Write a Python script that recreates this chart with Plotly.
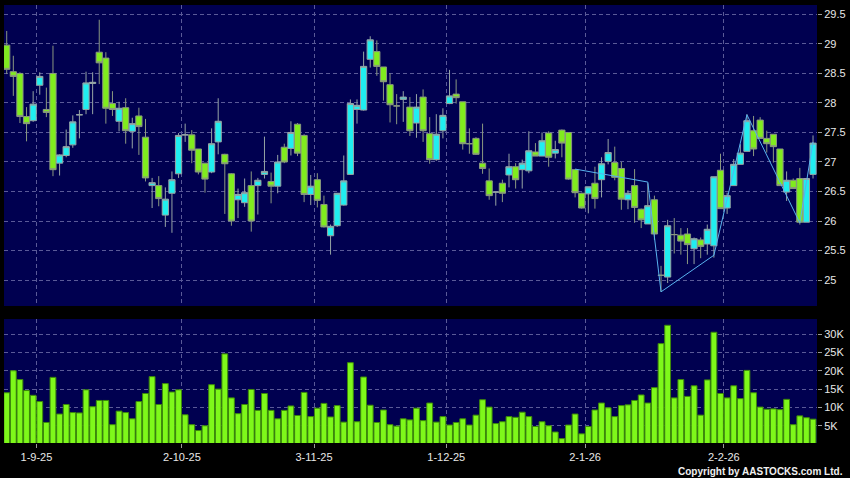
import plotly.graph_objects as go

# ---------------- data ----------------
opens = [28.98, 28.53, 28.50, 27.77, 27.70, 28.30, 27.89, 28.50, 26.98, 27.11,
         27.29, 27.80, 27.89, 28.33, 28.86, 28.76, 27.99, 27.69, 27.92, 27.52,
         27.78, 27.42, 26.60, 26.60, 26.10, 26.47, 26.80, 27.46, 27.46, 27.22,
         26.98, 26.83, 27.34, 27.13, 26.80, 26.36, 26.31, 26.60, 26.60, 26.79,
         26.67, 26.59, 27.25, 27.23, 27.64, 27.45, 26.45, 26.70, 26.28, 25.75,
         25.92, 26.27, 26.79, 27.89, 27.88, 28.74, 28.87, 28.61, 28.31, 27.95,
         28.06, 27.93, 27.66, 28.10, 27.48, 27.04, 27.53, 27.99, 28.15, 28.02,
         27.31, 27.40, 26.98, 26.68, 26.49, 26.64, 26.78, 26.92, 26.87, 26.85,
         27.17, 27.10, 27.49, 27.15, 27.54, 27.50, 26.87, 26.47, 26.46, 26.64,
         26.70, 27.01, 26.99, 26.89, 26.36, 26.60, 26.20, 25.95, 26.36, 25.08,
         25.05, 25.77, 25.76, 25.78, 25.53, 25.68, 25.61, 25.58, 26.86, 26.22,
         26.60, 26.96, 27.18, 27.53, 27.71, 27.40, 27.47, 27.22, 26.49, 26.69,
         26.72, 25.98, 26.79]
highs = [29.22, 28.80, 28.52, 27.93, 28.20, 28.52, 28.26, 28.97, 27.13, 27.55,
         27.79, 27.88, 28.53, 28.52, 29.41, 28.86, 28.20, 28.02, 28.08, 27.75,
         27.92, 27.73, 26.73, 26.76, 26.57, 26.84, 27.49, 27.65, 27.54, 27.22,
         26.98, 27.57, 28.08, 27.14, 26.81, 26.55, 26.72, 26.84, 26.73, 27.43,
         26.82, 27.12, 27.31, 27.69, 27.66, 27.47, 26.78, 26.81, 26.43, 25.94,
         26.47, 27.11, 28.06, 28.06, 28.87, 29.13, 29.06, 28.61, 28.50, 28.15,
         28.20, 28.10, 28.15, 28.23, 27.76, 27.81, 27.91, 28.56, 28.40, 28.02,
         27.57, 27.42, 27.65, 26.89, 26.49, 26.70, 27.14, 26.98, 27.04, 27.52,
         27.32, 27.50, 27.52, 27.36, 27.55, 27.50, 26.88, 26.48, 26.58, 26.92,
         27.08, 27.39, 27.26, 27.00, 26.52, 26.88, 26.21, 26.64, 26.43, 25.24,
         26.02, 26.05, 25.88, 25.88, 25.72, 25.72, 25.94, 26.75, 27.14, 26.48,
         27.05, 27.30, 27.81, 27.78, 27.76, 27.53, 27.47, 27.22, 26.84, 26.72,
         26.90, 26.72, 27.45]
lows = [28.49, 28.12, 27.66, 27.35, 27.68, 28.14, 27.76, 26.76, 26.77, 27.08,
        27.24, 27.40, 27.81, 27.81, 28.32, 27.65, 27.78, 27.52, 27.31, 27.23,
        27.12, 26.67, 26.22, 26.25, 25.90, 25.80, 26.73, 27.34, 26.98, 26.79,
        26.48, 26.81, 27.13, 26.12, 25.92, 26.05, 26.24, 25.82, 26.11, 26.72,
        26.30, 26.47, 26.98, 27.11, 27.10, 26.32, 26.27, 26.23, 25.89, 25.43,
        25.90, 26.26, 26.78, 27.65, 27.87, 28.60, 28.46, 28.04, 27.67, 27.64,
        27.68, 27.44, 27.41, 27.34, 26.97, 27.02, 27.40, 27.98, 27.99, 27.21,
        27.14, 27.12, 26.80, 26.36, 26.26, 26.32, 26.57, 26.55, 26.55, 26.81,
        27.10, 27.10, 26.92, 27.06, 27.08, 26.70, 26.40, 26.21, 26.13, 26.21,
        26.40, 26.96, 26.69, 26.19, 26.20, 25.97, 25.88, 25.95, 25.68, 24.80,
        24.95, 25.45, 25.43, 25.27, 25.27, 25.37, 25.43, 25.38, 26.21, 26.12,
        26.60, 26.96, 27.18, 27.10, 27.40, 27.16, 26.99, 26.60, 26.34, 26.55,
        25.94, 25.98, 26.72]
closes = [28.57, 28.45, 27.77, 27.65, 27.98, 28.45, 27.84, 26.87, 27.12, 27.26,
          27.68, 27.80, 28.34, 28.35, 28.68, 27.91, 27.89, 27.91, 27.53, 27.65,
          27.60, 26.73, 26.65, 26.38, 26.37, 26.70, 27.45, 27.46, 27.20, 26.83,
          26.71, 27.31, 27.69, 26.97, 26.00, 26.45, 26.48, 26.00, 26.69, 26.84,
          26.59, 27.00, 27.00, 27.50, 27.15, 26.45, 26.59, 26.35, 25.90, 25.91,
          26.47, 26.68, 27.99, 27.96, 28.62, 29.07, 28.62, 28.36, 27.97, 27.95,
          28.10, 27.53, 27.93, 27.53, 27.04, 27.47, 27.79, 28.12, 28.09, 27.31,
          27.31, 27.13, 26.89, 26.43, 26.49, 26.47, 26.92, 26.70, 26.98, 27.19,
          27.10, 27.36, 27.08, 27.21, 27.32, 26.71, 26.48, 26.22, 26.58, 26.38,
          26.97, 27.16, 26.74, 26.37, 26.47, 26.23, 26.02, 26.26, 25.78, 25.08,
          25.92, 25.77, 25.66, 25.60, 25.70, 25.57, 25.86, 26.75, 26.21, 26.43,
          26.96, 27.15, 27.70, 27.22, 27.40, 27.31, 27.26, 26.60, 26.69, 26.55,
          25.98, 26.72, 27.32]
volumes_k = [14.0, 20.0, 17.6, 14.6, 13.3, 11.6, 5.9, 18.2, 8.2, 10.8,
             8.6, 8.5, 14.8, 10.2, 11.9, 11.9, 5.3, 9.0, 8.6, 6.9,
             11.6, 13.8, 18.4, 10.8, 16.5, 14.2, 14.8, 8.0, 5.3, 3.7,
             5.0, 16.2, 15.0, 24.6, 12.6, 8.3, 10.8, 14.9, 9.2, 13.8,
             9.2, 6.9, 9.2, 10.4, 7.8, 14.1, 7.5, 9.8, 11.1, 7.4,
             10.5, 6.0, 22.2, 6.1, 18.3, 10.6, 5.9, 9.3, 5.3, 4.9,
             6.9, 6.6, 9.8, 6.4, 11.2, 6.0, 7.5, 5.2, 5.9, 6.9,
             5.2, 7.9, 12.1, 10.1, 5.6, 6.1, 7.5, 7.3, 8.7, 7.5,
             4.8, 6.1, 5.0, 3.3, 1.5, 5.2, 8.2, 2.8, 4.8, 9.3,
             11.2, 9.9, 7.5, 10.5, 10.7, 11.9, 13.4, 11.2, 15.4, 27.4,
             32.4, 12.6, 17.6, 13.0, 15.9, 7.9, 17.5, 30.5, 13.8, 12.6,
             15.9, 12.4, 20.1, 14.0, 10.1, 9.5, 9.6, 9.4, 12.2, 5.3,
             7.7, 7.2, 6.8]
volumes = [v * 1000 for v in volumes_k]

tick_idx = [4, 26, 46, 66, 87, 108]
tick_labels = ["1-9-25", "2-10-25", "3-11-25", "1-12-25", "2-1-26", "2-2-26"]

line_idx = [86, 97, 99, 107, 112, 120, 122]
line_val = [26.88, 26.66, 24.80, 25.42, 27.80, 25.97, 27.34]

price_ticks = [25, 25.5, 26, 26.5, 27, 27.5, 28, 28.5, 29, 29.5]
vol_ticks = [5000, 10000, 15000, 20000, 25000, 30000]
vol_tick_labels = ["5K", "10K", "15K", "20K", "25K", "30K"]

# ---------------- figure ----------------
xs = list(range(len(opens)))
grid_pos = [t + 0.5 for t in tick_idx]

FONT = "Arial, Liberation Sans, sans-serif"
GRID = "#5a5a98"
TXT = "#e8e8e8"

fig = go.Figure()
fig.add_trace(go.Candlestick(
    x=xs, open=opens, high=highs, low=lows, close=closes,
    increasing=dict(fillcolor="#20eef0", line=dict(color="#96a4a4", width=1)),
    decreasing=dict(fillcolor="#80ec1e", line=dict(color="#8a9880", width=1)),
    whiskerwidth=0, xaxis="x2", yaxis="y2", showlegend=False, hoverinfo="skip"))
fig.add_trace(go.Scatter(
    x=line_idx, y=line_val, mode="lines",
    line=dict(color="#58b2ee", width=1),
    xaxis="x2", yaxis="y2", showlegend=False, hoverinfo="skip"))
fig.add_trace(go.Bar(
    x=xs, y=volumes,
    marker=dict(color="#7ef81a", line=dict(color="#3d8a0a", width=1)),
    xaxis="x", yaxis="y", showlegend=False, hoverinfo="skip"))

xrange = [-0.41, 122.6]
fig.update_layout(
    width=850, height=478,
    margin=dict(l=4, r=33, t=5, b=35),
    paper_bgcolor="#000000",
    plot_bgcolor="#000050",
    font=dict(family=FONT, size=11, color=TXT),
    bargap=0.12,
    boxgap=0.06, boxgroupgap=0,
    showlegend=False,
    xaxis=dict(domain=[0, 1], anchor="y", range=xrange,
               tickvals=grid_pos, ticktext=tick_labels,
               showgrid=True, gridcolor=GRID, griddash="4px,3px", gridwidth=1,
               ticks="outside", ticklen=4, tickcolor="#9a9a9a",
               tickfont=dict(size=11, color=TXT),
               zeroline=False, showline=False, fixedrange=True),
    xaxis2=dict(domain=[0, 1], anchor="y2", range=xrange, matches="x",
                tickvals=grid_pos, showticklabels=False,
                showgrid=True, gridcolor=GRID, griddash="4px,3px", gridwidth=1,
                ticks="", zeroline=False, showline=False,
                rangeslider=dict(visible=False)),
    yaxis=dict(domain=[0, 0.283], anchor="x", side="right",
               range=[300, 34100], tickvals=vol_ticks, ticktext=vol_tick_labels,
               showgrid=True, gridcolor=GRID, griddash="4px,3px", gridwidth=1,
               ticks="outside", ticklen=4, tickcolor="#9a9a9a",
               tickfont=dict(size=11, color=TXT),
               zeroline=False, showline=False),
    yaxis2=dict(domain=[0.3128, 1], anchor="x2", side="right",
                range=[24.56, 29.66], tickvals=price_ticks,
                showgrid=True, gridcolor=GRID, griddash="4px,3px", gridwidth=1,
                ticks="outside", ticklen=4, tickcolor="#9a9a9a",
                tickfont=dict(size=11, color=TXT),
                zeroline=False, showline=False),
    annotations=[dict(text="<b>Copyright by AASTOCKS.com Ltd.</b>",
                      xref="paper", yref="paper", x=1.0344, y=-0.066,
                      xanchor="right", yanchor="middle", showarrow=False,
                      font=dict(family=FONT, size=10, color="#f0f0f0"))],
)

fig.write_html("out.html", config={"displayModeBar": False},
               post_script="document.body.style.margin='0';document.body.style.background='#000';")
